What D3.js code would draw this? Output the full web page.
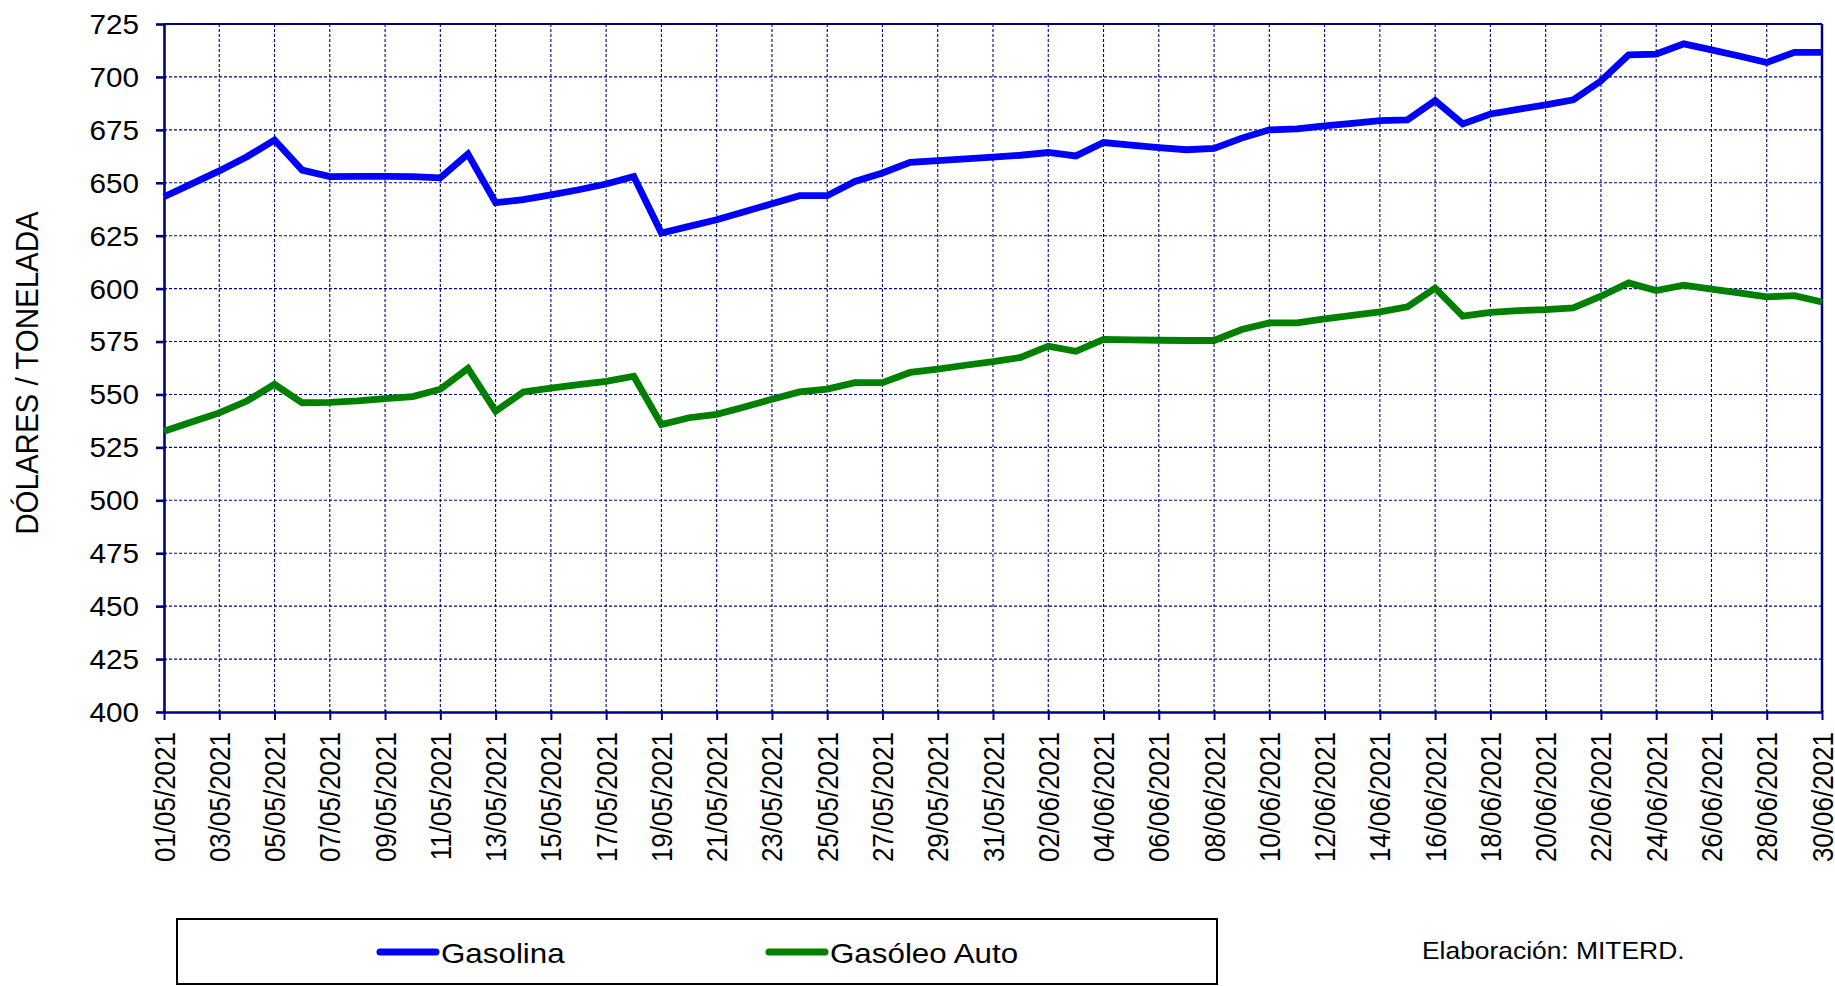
<!DOCTYPE html>
<html><head><meta charset="utf-8">
<script src="https://cdn.jsdelivr.net/npm/d3@7/dist/d3.min.js"></script>
<style>html,body{margin:0;padding:0;background:#fff;}svg{display:block;}</style>
</head><body>
<script>
const dates = ["01/05/2021","02/05/2021","03/05/2021","04/05/2021","05/05/2021","06/05/2021","07/05/2021","08/05/2021","09/05/2021","10/05/2021",
"11/05/2021","12/05/2021","13/05/2021","14/05/2021","15/05/2021","16/05/2021","17/05/2021","18/05/2021","19/05/2021","20/05/2021",
"21/05/2021","22/05/2021","23/05/2021","24/05/2021","25/05/2021","26/05/2021","27/05/2021","28/05/2021","29/05/2021","30/05/2021",
"31/05/2021","01/06/2021","02/06/2021","03/06/2021","04/06/2021","05/06/2021","06/06/2021","07/06/2021","08/06/2021","09/06/2021",
"10/06/2021","11/06/2021","12/06/2021","13/06/2021","14/06/2021","15/06/2021","16/06/2021","17/06/2021","18/06/2021","19/06/2021",
"20/06/2021","21/06/2021","22/06/2021","23/06/2021","24/06/2021","25/06/2021","26/06/2021","27/06/2021","28/06/2021","29/06/2021","30/06/2021"];

const gasolina = [643.4,649.5,655.6,662.3,670.2,656.0,652.9,653.0,653.0,652.9,
652.3,663.6,640.6,642.0,644.3,646.7,649.4,653.0,626.3,629.4,
632.5,636.3,640.1,643.9,643.9,650.6,654.6,659.6,660.5,661.3,
662.1,663.0,664.3,662.7,669.0,667.8,666.6,665.6,666.2,671.1,
675.0,675.5,676.9,678.1,679.4,679.7,688.8,677.8,682.5,684.7,
686.8,689.2,698.1,710.4,710.8,715.6,712.8,709.9,706.8,711.6,711.6];

const gasoleo = [532.6,537.0,541.3,546.9,554.8,546.1,546.3,547.0,548.0,549.0,
552.5,562.3,542.1,551.2,553.0,554.6,556.2,558.6,535.8,539.0,
540.6,544.1,547.7,551.2,552.5,555.6,555.6,560.4,562.0,563.8,
565.5,567.5,572.8,570.4,576.0,575.8,575.6,575.5,575.5,580.7,
583.8,583.8,585.7,587.4,589.0,591.4,600.2,587.0,588.8,589.6,
590.1,590.9,596.4,602.7,599.1,601.6,599.8,598.0,596.1,596.7,593.7];

const yTicks = [400,425,450,475,500,525,550,575,600,625,650,675,700,725];
const xTickLabels = dates.filter((d,i)=> i%2===0);

const seriesNames = ["Gasolina","Gasóleo Auto"];
const seriesColors = ["#0000FF","#008000"];
const yTitle = "DÓLARES / TONELADA";
const credit = "Elaboración: MITERD.";

const W = 1835, H = 986;
const L = 164, R = 1822, T = 24, B = 712;
const SX = 1.1; // horizontal text stretch
const NAVY = "#000080";
const FONT = "'Liberation Sans', Arial, sans-serif";

const svg = d3.select("body").append("svg").attr("width", W).attr("height", H);

const x = d3.scalePoint().domain(dates).range([L, R]);
const y = d3.scaleLinear().domain([400, 725]).range([B, T]);

// grid
const grid = svg.append("g");
grid.selectAll("line.h").data(yTicks.filter(v=>v>400 && v<725)).join("line")
  .attr("x1", L).attr("x2", R).attr("y1", d=>y(d)).attr("y2", d=>y(d))
  .attr("stroke", NAVY).attr("stroke-width", 1.1).attr("stroke-dasharray", "3,2");
grid.selectAll("line.v").data(xTickLabels.slice(1, -1)).join("line")
  .attr("x1", d=>x(d)).attr("x2", d=>x(d)).attr("y1", T).attr("y2", B)
  .attr("stroke", NAVY).attr("stroke-width", 1.1).attr("stroke-dasharray", "3,2");

// frame top/right
svg.append("line").attr("x1", L).attr("x2", R).attr("y1", T).attr("y2", T).attr("stroke", NAVY).attr("stroke-width", 2);
svg.append("line").attr("x1", R).attr("x2", R).attr("y1", T).attr("y2", B).attr("stroke", NAVY).attr("stroke-width", 2.5);

// y axis
const yAx = svg.append("g").attr("transform", `translate(${L},0)`)
  .call(d3.axisLeft(y).tickValues(yTicks).tickSize(8).tickSizeOuter(0).tickFormat(d3.format("d")));
yAx.select(".domain").attr("stroke", NAVY).attr("stroke-width", 2.6);
yAx.selectAll(".tick line").attr("stroke", NAVY).attr("stroke-width", 2.6).attr("x2", -8).attr("x1", 2);
yAx.selectAll(".tick text").attr("x", 0).attr("dy", "0.35em")
  .attr("transform", `translate(-25,0) scale(${SX},1)`)
  .attr("text-anchor", "end").attr("fill", "#000")
  .style("font-family", FONT).style("font-size", "27px");

// x axis
const xAx = svg.append("g").attr("transform", `translate(0,${B})`)
  .call(d3.axisBottom(x).tickValues(xTickLabels).tickSize(8).tickSizeOuter(0));
xAx.select(".domain").attr("stroke", NAVY).attr("stroke-width", 2.6);
xAx.selectAll(".tick line").attr("stroke", NAVY).attr("stroke-width", 2).attr("y1", -2);
xAx.selectAll(".tick text").attr("x", 0).attr("y", 0).attr("dy", "0.35em")
  .attr("transform", `translate(0,20) scale(${SX},1) rotate(-90)`)
  .attr("text-anchor", "end").attr("fill", "#000")
  .style("font-family", FONT).style("font-size", "26px");

// y title
svg.append("text").attr("transform", `translate(38,373) scale(1.05,1) rotate(-90)`)
  .attr("text-anchor", "middle").style("font-family", FONT).style("font-size", "29.5px")
  .attr("fill", "#000").text(yTitle);

// lines
const line = d3.line().x((d,i)=>x(dates[i])).y(d=>y(d));
[gasolina, gasoleo].forEach((s, k) => {
  svg.append("path").datum(s).attr("d", line).attr("fill", "none")
    .attr("stroke", seriesColors[k]).attr("stroke-width", 6.8)
    .attr("stroke-linejoin", "miter").attr("stroke-linecap", "butt");
});

// legend
svg.append("rect").attr("x", 177).attr("y", 919).attr("width", 1040).attr("height", 65)
  .attr("fill", "none").attr("stroke", "#000").attr("stroke-width", 2);
const legX = [380, 769];
seriesNames.forEach((n, k) => {
  svg.append("line").attr("x1", legX[k]).attr("x2", legX[k] + 56).attr("y1", 952).attr("y2", 952)
    .attr("stroke", seriesColors[k]).attr("stroke-width", 7).attr("stroke-linecap", "round");
  svg.append("text").attr("transform", `translate(${legX[k] + 61},963) scale(${SX},1)`)
    .style("font-family", FONT).style("font-size", "28.5px").attr("fill", "#000").text(n);
});

svg.append("text").attr("transform", `translate(1422,959) scale(${SX},1)`)
  .style("font-family", FONT).style("font-size", "24px").attr("fill", "#000").text(credit);
</script>
</body></html>
